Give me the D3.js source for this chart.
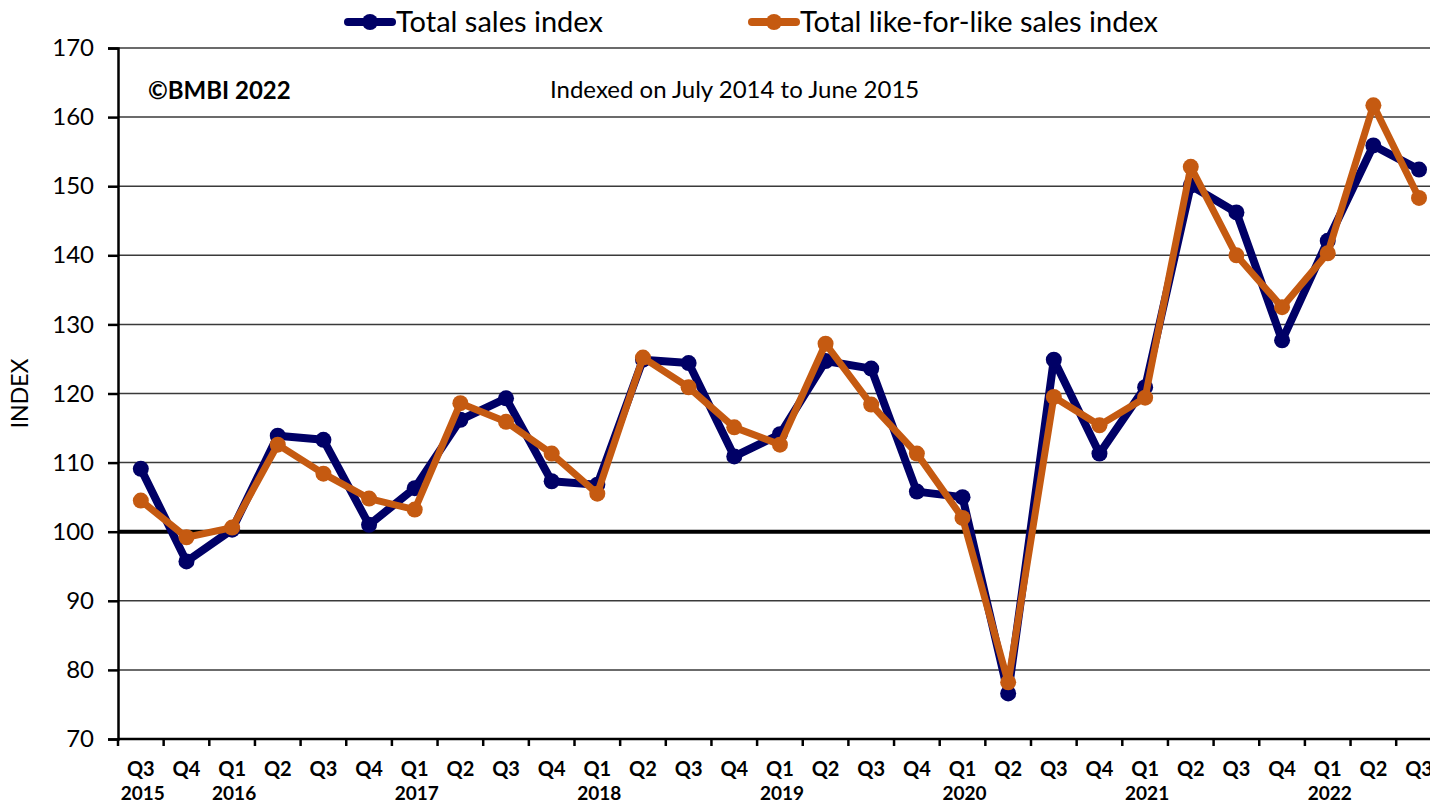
<!DOCTYPE html>
<html>
<head>
<meta charset="utf-8">
<script src="https://cdn.jsdelivr.net/npm/d3@7"></script>
<style>
  body { margin: 0; background: #fff; }
  svg { display: block; font-family: Lato, "Open Sans", sans-serif; }
</style>
</head>
<body>
<svg id="chart" width="1430" height="804"></svg>
<script>
const quarters = ["Q3","Q4","Q1","Q2","Q3","Q4","Q1","Q2","Q3","Q4","Q1","Q2","Q3","Q4","Q1","Q2","Q3","Q4","Q1","Q2","Q3","Q4","Q1","Q2","Q3","Q4","Q1","Q2","Q3"];
const years = [{i: 0, label: "2015"}, {i: 2, label: "2016"}, {i: 6, label: "2017"}, {i: 10, label: "2018"},
    {i: 14, label: "2019"}, {i: 18, label: "2020"}, {i: 22, label: "2021"}, {i: 26, label: "2022"}];
const totalSales = [109.1, 95.7, 100.3, 113.9, 113.3, 101.0, 106.3, 116.2, 119.3, 107.3, 106.8, 124.9, 124.4, 110.9, 114.1,
    124.7, 123.6, 105.8, 105.0, 76.6, 124.9, 111.3, 120.9, 150.1, 146.2, 127.7, 142.1, 155.9, 152.4];
const lflSales = [104.5, 99.2, 100.6, 112.6, 108.4, 104.8, 103.2, 118.6, 115.9, 111.3, 105.5, 125.2, 120.9, 115.1, 112.6,
    127.2, 118.4, 111.3, 102.0, 78.2, 119.5, 115.4, 119.4, 152.8, 140.0, 132.5, 140.3, 161.7, 148.3];
const yTicks = [70, 80, 90, 100, 110, 120, 130, 140, 150, 160, 170];

const navy = "#000066", orange = "#c55a11";
const svg = d3.select("#chart");
const margin = {left: 118, top: 48, bottom: 739};
const step = 45.65;

const x = d3.scaleBand().domain(d3.range(quarters.length))
    .range([margin.left, margin.left + step * quarters.length]).padding(0);
const y = d3.scaleLinear().domain([70, 170]).range([margin.bottom, margin.top]);
const cx = (i) => x(i) + x.bandwidth() / 2;

// grid
svg.append("g")
    .selectAll("line")
    .data(yTicks.filter(d => d > 70 && d !== 100))
    .join("line")
    .attr("x1", margin.left).attr("x2", 1430)
    .attr("y1", d => y(d)).attr("y2", d => y(d))
    .attr("stroke", "#3a3a3a")
    .attr("stroke-width", 1.5);

svg.append("line")
    .attr("x1", margin.left).attr("x2", 1430)
    .attr("y1", y(100)).attr("y2", y(100))
    .attr("stroke", "#000")
    .attr("stroke-width", 4);

// y axis
const yAxis = svg.append("g")
    .attr("transform", `translate(${margin.left},0)`)
    .call(d3.axisLeft(y).tickValues(yTicks).tickSize(10).tickPadding(14));
yAxis.select(".domain").attr("stroke-width", 2.5);
yAxis.selectAll(".tick line").attr("stroke-width", 2.5);
yAxis.selectAll("text")
    .style("font-size", "24px")
    .style("font-family", "Lato, sans-serif")
    .attr("fill", "#000");

// x axis
const xAxis = svg.append("g")
    .attr("transform", `translate(0,${margin.bottom})`);
xAxis.append("line")
    .attr("x1", margin.left).attr("x2", 1430)
    .attr("stroke", "#000").attr("stroke-width", 2.5);
xAxis.selectAll(".xtick")
    .data(d3.range(quarters.length))
    .join("line")
    .attr("class", "xtick")
    .attr("x1", d => x(d)).attr("x2", d => x(d))
    .attr("y1", 0).attr("y2", 7)
    .attr("stroke", "#000").attr("stroke-width", 2.5);
xAxis.selectAll(".qlabel")
    .data(quarters)
    .join("text")
    .attr("class", "qlabel")
    .attr("x", (d, i) => cx(i))
    .attr("y", 37)
    .attr("text-anchor", "middle")
    .style("font-size", "20px")
    .style("font-weight", "bold")
    .text(d => d);
xAxis.selectAll(".ylabel")
    .data(years)
    .join("text")
    .attr("class", "ylabel")
    .attr("x", d => cx(d.i) + 2)
    .attr("y", 61)
    .attr("text-anchor", "middle")
    .style("font-size", "19px")
    .style("font-weight", "bold")
    .text(d => d.label);

// y title
svg.append("text")
    .attr("transform", `translate(28,${y(120)}) rotate(-90)`)
    .attr("text-anchor", "middle")
    .style("font-size", "23px")
    .text("INDEX");

// series
const series = [
    {name: "Total sales index", values: totalSales, color: navy, width: 8, r: 8},
    {name: "Total like-for-like sales index", values: lflSales, color: orange, width: 7, r: 8}
];
const line = d3.line().x((d, i) => cx(i)).y(d => y(d));

series.forEach(s => {
    const g = svg.append("g");
    g.append("path")
        .attr("d", line(s.values))
        .attr("fill", "none")
        .attr("stroke", s.color)
        .attr("stroke-width", s.width)
        .attr("stroke-linejoin", "round");
    g.selectAll("circle")
        .data(s.values)
        .join("circle")
        .attr("cx", (d, i) => cx(i))
        .attr("cy", d => y(d))
        .attr("r", s.r)
        .attr("fill", s.color);
});

// annotations
svg.append("text")
    .attr("x", 148).attr("y", 99)
    .style("font-size", "24px")
    .style("font-weight", "bold")
    .text("©BMBI 2022");
svg.append("text")
    .attr("x", 550).attr("y", 98)
    .style("font-size", "24px")
    .text("Indexed on July 2014 to June 2015");

// legend
const legend = svg.append("g")
    .selectAll("g")
    .data(series)
    .join("g")
    .attr("transform", (d, i) => `translate(${i === 0 ? 348 : 752},22)`);
legend.append("line")
    .attr("x1", 0).attr("x2", 44)
    .attr("stroke", d => d.color)
    .attr("stroke-width", 8)
    .attr("stroke-linecap", "round");
legend.append("circle")
    .attr("cx", 22).attr("r", 8)
    .attr("fill", d => d.color);
legend.append("text")
    .attr("x", 48).attr("dy", "0.35em")
    .style("font-size", "29px")
    .text(d => d.name);
</script>
</body>
</html>
